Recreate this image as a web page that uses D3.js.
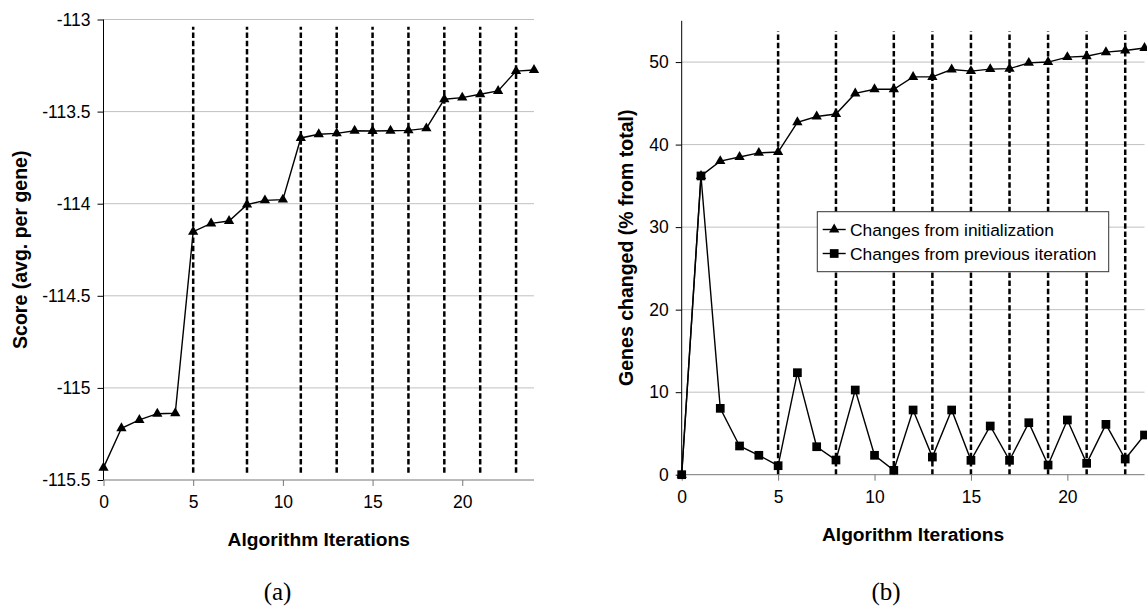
<!DOCTYPE html>
<html><head><meta charset="utf-8">
<script src="https://cdn.jsdelivr.net/npm/d3@7"></script>
<style>body{margin:0;background:#fff}svg{display:block}</style>
</head><body>
<svg id="c" width="1147" height="607"></svg>
<script>
// ---------- data ----------
const iterations = [0,1,2,3,4,5,6,7,8,9,10,11,12,13,14,15,16,17,18,19,20,21,22,23,24];
const scoreValues = [-115.433,-115.219,-115.174,-115.140,-115.138,-114.152,-114.107,-114.094,-114.005,-113.982,-113.978,
  -113.643,-113.623,-113.618,-113.604,-113.605,-113.604,-113.602,-113.591,-113.433,-113.424,-113.406,-113.388,-113.280,-113.274];
const fromInit = [0,36.2,38.0,38.5,39.0,39.1,42.7,43.4,43.7,46.2,46.7,46.7,48.2,48.2,49.1,48.9,49.15,49.2,49.9,50.0,50.6,50.7,51.2,51.4,51.7];
const fromPrev = [0,36.2,8.04,3.48,2.35,1.09,12.36,3.39,1.78,10.26,2.35,0.53,7.84,2.14,7.84,1.74,5.9,1.74,6.3,1.17,6.63,1.38,6.1,1.9,4.81];
const restartIters = [5,8,11,13,15,17,19,21,23];
const leftYTicks = [-115.5,-115,-114.5,-114,-113.5,-113];
const leftYLabels = ["-115.5","-115","-114.5","-114","-113.5","-113"];
const rightYTicks = [0,10,20,30,40,50];
const xTicks = [0,5,10,15,20];
const legendLabels = ["Changes from initialization","Changes from previous iteration"];
const panelLabels = ["(a)","(b)"];

const svg = d3.select("#c");
const FONT = "'Liberation Sans', Arial, Helvetica, sans-serif";

function panel(opt){
  const g = svg.append("g");
  const x = d3.scaleLinear().domain([0,24]).range(opt.xr);
  const y = d3.scaleLinear().domain(opt.yd).range(opt.yr);
  // gridlines
  g.append("g").selectAll("line").data(opt.yTicks.filter(d=>d!==opt.yd[0])).join("line")
    .attr("x1",x(0)).attr("x2",x(24)).attr("y1",d=>y(d)).attr("y2",d=>y(d))
    .attr("stroke","#c0c0c0").attr("stroke-width",1);
  // dashed restart lines
  g.append("g").selectAll("line").data(restartIters).join("line")
    .attr("x1",d=>x(d)).attr("x2",d=>x(d)).attr("y1",y(opt.dash[0])).attr("y2",y(opt.dash[1]))
    .attr("stroke","#000").attr("stroke-width",2.5).attr("stroke-dasharray","5.5,2.7");
  // axes
  const yAxis = d3.axisLeft(y).tickValues(opt.yTicks).tickSize(6).tickPadding(7)
    .tickFormat((d,i)=>opt.yLabels[i]);
  const ya = g.append("g").attr("transform",`translate(${x(0)},0)`).call(yAxis);
  ya.select(".domain").attr("stroke","#000").attr("d",`M0,${y(opt.yd[0])}V${y(opt.yd[1])}`);
  ya.selectAll(".tick line").attr("stroke","#000");
  const xAxis = d3.axisBottom(x).tickValues(xTicks).tickSize(6).tickPadding(10).tickFormat(d=>String(d));
  const xa = g.append("g").attr("transform",`translate(0,${y(opt.yd[0])})`).call(xAxis);
  xa.select(".domain").attr("stroke","#777").attr("d",`M${x(0)},0H${x(24)}`);
  xa.selectAll(".tick line").attr("stroke","#777");
  g.selectAll(".tick text").attr("font-family",FONT).attr("font-size",17.5).attr("fill","#000");
  // titles
  g.append("text").attr("x",(x(0)+x(24))/2).attr("y",opt.xTitleY).attr("text-anchor","middle")
    .attr("font-family",FONT).attr("font-weight","bold").attr("font-size",19.2).text("Algorithm Iterations");
  g.append("text").attr("transform",`translate(${opt.yTitleX},${(y(opt.yd[0])+y(opt.yd[1]))/2}) rotate(-90)`)
    .attr("text-anchor","middle").attr("font-family",FONT).attr("font-weight","bold").attr("font-size",19.5)
    .text(opt.yTitle);
  g.append("text").attr("x",opt.labelX).attr("y",600).attr("text-anchor","middle")
    .attr("font-family","'Liberation Serif','Times New Roman',serif").attr("font-size",25).text(opt.label);
  return {g,x,y};
}

function series(p, values, symbolType, size){
  const line = d3.line().x((d,i)=>p.x(iterations[i])).y(d=>p.y(d));
  p.g.append("path").datum(values).attr("d",line).attr("fill","none").attr("stroke","#000").attr("stroke-width",1.4);
  p.g.append("g").selectAll("path").data(values).join("path")
    .attr("transform",(d,i)=>`translate(${p.x(iterations[i])},${p.y(d)})`)
    .attr("d",d3.symbol().type(symbolType).size(size)).attr("fill","#000");
}

// Left panel
const L = panel({xr:[103.5,534], yd:[-115.5,-113], yr:[480,19.5], yTicks:leftYTicks, yLabels:leftYLabels,
  dash:[-115.46,-113.04], xTitleY:546, yTitleX:27, yTitle:"Score (avg. per gene)", labelX:277.5, label:panelLabels[0]});
series(L, scoreValues, d3.symbolTriangle, 46);

// Right panel
const R = panel({xr:[681.7,1144.5], yd:[0,55], yr:[474.7,20.8], yTicks:rightYTicks, yLabels:rightYTicks.map(String),
  dash:[0,53.7], xTitleY:541, yTitleX:633, yTitle:"Genes changed (% from total)", labelX:886, label:panelLabels[1]});
series(R, fromInit, d3.symbolTriangle, 46);
series(R, fromPrev, d3.symbolSquare, 76);

// Legend
const lg = svg.append("g");
lg.append("rect").attr("x",817.3).attr("y",211.7).attr("width",291.4).attr("height",60)
  .attr("fill","#fff").attr("stroke","#333").attr("stroke-width",1);
const legSyms = [d3.symbolTriangle, d3.symbolSquare];
const legSizes = [46,76];
legendLabels.forEach((t,i)=>{
  const cy = 229.5 + i*24;
  lg.append("line").attr("x1",822.7).attr("x2",845.7).attr("y1",cy).attr("y2",cy).attr("stroke","#000").attr("stroke-width",1.4);
  lg.append("path").attr("transform",`translate(834.2,${cy})`).attr("d",d3.symbol().type(legSyms[i]).size(legSizes[i])).attr("fill","#000");
  lg.append("text").attr("x",850).attr("y",cy+6.2).attr("font-family",FONT).attr("font-size",17.4).text(t);
});
</script>
</body></html>
